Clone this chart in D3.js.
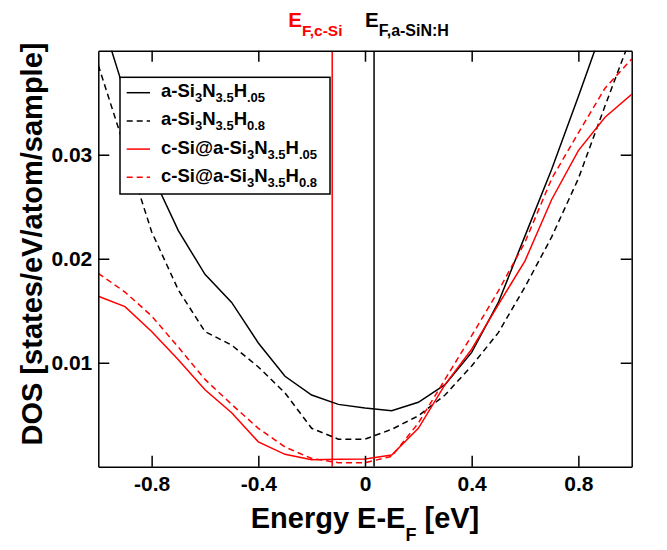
<!doctype html>
<html lang='en'>
<head>
    <meta charset='utf-8'>
    <title>DOS near the Fermi level</title>
    <script src='https://cdn.jsdelivr.net/npm/d3@7/dist/d3.min.js'></script>
    <style>
        body { margin: 0; background: white; }
        svg { font-family: 'Liberation Sans', Arial, Helvetica, sans-serif; font-weight: bold; }
        .frame path, .frame line { stroke: black; stroke-width: 1.5px; }
        .frame text { font-size: 21px; font-weight: bold; fill: black; font-family: 'Liberation Sans', Arial, sans-serif; }
        .curve { fill: none; stroke-width: 1.5px; }
    </style>
</head>
<body>
<div id='chart'></div>
<script>
    // energies in eV relative to E_F
    const energy = [-1.0, -0.9, -0.8, -0.7, -0.6, -0.5, -0.4, -0.3, -0.2, -0.1, 0.0,
                    0.1, 0.2, 0.3, 0.4, 0.5, 0.6, 0.7, 0.8, 0.9, 1.0];

    // DOS values, states/eV/atom/sample
    const dosASiN05 = [0.0441, 0.0359, 0.0282, 0.0227, 0.0185, 0.0158, 0.0119, 0.0087, 0.0069, 0.0060, 0.00565,
                       0.0054, 0.0062, 0.0079, 0.0110, 0.0158, 0.0222, 0.0286, 0.0356, 0.0428, 0.0500];
    const dosASiN08 = [0.0386, 0.0306, 0.0226, 0.0170, 0.0130, 0.0117, 0.0096, 0.0071, 0.0037, 0.00266, 0.00266,
                       0.0036, 0.0049, 0.0069, 0.0097, 0.0129, 0.0173, 0.0221, 0.0277, 0.0347, 0.0415];
    const dosCSi05 = [0.0164, 0.0154, 0.0130, 0.0103, 0.0074, 0.0052, 0.0024, 0.0012, 0.00068, 0.00072, 0.00075,
                      0.00114, 0.0037, 0.0079, 0.0113, 0.0156, 0.0198, 0.0257, 0.0304, 0.0336, 0.0358];
    const dosCSi08 = [0.0186, 0.0168, 0.0145, 0.0115, 0.0084, 0.0060, 0.0037, 0.0019, 0.0008, 0.0004, 0.0004,
                      0.0010, 0.0042, 0.0084, 0.0126, 0.0169, 0.0216, 0.0277, 0.0321, 0.0364, 0.0392];

    // Fermi levels
    const fermiCSi = -0.123;
    const fermiASiN = 0.034;

    const xTicks = [-0.8, -0.4, 0, 0.4, 0.8];
    const yTicks = [0.01, 0.02, 0.03];

    // legend labels as [text, subscript] pieces
    const seriesLabels = [
        [['a-Si', false], ['3', true], ['N', false], ['3.5', true], ['H', false], ['.05', true]],
        [['a-Si', false], ['3', true], ['N', false], ['3.5', true], ['H', false], ['0.8', true]],
        [['c-Si@a-Si', false], ['3', true], ['N', false], ['3.5', true], ['H', false], ['.05', true]],
        [['c-Si@a-Si', false], ['3', true], ['N', false], ['3.5', true], ['H', false], ['0.8', true]]
    ];
    const seriesValues = [dosASiN05, dosASiN08, dosCSi05, dosCSi08];
    const seriesColors = ['black', 'black', '#ff0000', '#ff0000'];
    const seriesDashes = [null, '6,4', null, '6,4'];

    const W = 667, H = 550;
    const plot = {left: 98.3, right: 631.7, top: 50.7, bottom: 466.8};

    const svg = d3.select('#chart').append('svg')
        .attr('width', W)
        .attr('height', H);

    const x = d3.scaleLinear().domain([-1, 1]).range([plot.left, plot.right]);
    const y = d3.scaleLinear().domain([0, 0.04]).range([plot.bottom, plot.top]);

    svg.append('clipPath').attr('id', 'plot-clip')
        .append('rect')
        .attr('x', plot.left)
        .attr('y', plot.top)
        .attr('width', plot.right - plot.left)
        .attr('height', plot.bottom - plot.top);

    const inner = svg.append('g').attr('clip-path', 'url(#plot-clip)');

    // Fermi level markers
    inner.selectAll('.fermi')
        .data([[fermiCSi, '#ff0000'], [fermiASiN, 'black']])
        .enter()
        .append('line')
        .attr('x1', d => x(d[0]))
        .attr('x2', d => x(d[0]))
        .attr('y1', plot.top)
        .attr('y2', plot.bottom)
        .style('stroke', d => d[1])
        .style('stroke-width', '1.5px');

    const line = d3.line()
        .x((d, i) => x(energy[i]))
        .y(d => y(d));

    inner.selectAll('.curve')
        .data(seriesValues)
        .enter()
        .append('path')
        .classed('curve', true)
        .attr('d', d => line(d))
        .style('stroke', (d, i) => seriesColors[i])
        .style('stroke-dasharray', (d, i) => seriesDashes[i]);

    // writes [text, isSub] pieces into a text element as tspans
    function writeParts(text, parts, mainSize, subSize, shift) {
        let down = false;
        parts.forEach(p => {
            const t = text.append('tspan').text(p[0]);
            if (p[1]) {
                t.style('font-size', subSize + 'px');
                if (!down) { t.attr('dy', shift); down = true; }
            } else {
                t.style('font-size', mainSize + 'px');
                if (down) { t.attr('dy', -shift); down = false; }
            }
        });
    }

    // legend
    const legend = svg.append('g');
    legend.append('rect')
        .attr('x', 120)
        .attr('y', 77.3)
        .attr('width', 210)
        .attr('height', 116.7)
        .style('fill', 'white')
        .style('stroke', 'black')
        .style('stroke-width', '1.5px');

    const rows = legend.selectAll('.row')
        .data(seriesLabels)
        .enter()
        .append('g')
        .attr('transform', (d, i) => `translate(0,${92.7 + i * 28.2})`);

    rows.append('line')
        .attr('x1', 126.7)
        .attr('x2', 150)
        .style('stroke', (d, i) => seriesColors[i])
        .style('stroke-width', '1.5px')
        .style('stroke-dasharray', (d, i) => seriesDashes[i]);

    rows.each(function (d) {
        const t = d3.select(this).append('text')
            .attr('x', 161)
            .attr('y', 4.5);
        writeParts(t, d, 18.5, 13, 5);
    });

    // axes on all four sides, ticks pointing inward
    const fmt = d => d === 0 ? '0' : String(d);

    svg.append('g').classed('frame', true)
        .attr('transform', `translate(0,${plot.bottom})`)
        .call(d3.axisBottom(x).tickValues(xTicks).tickFormat(fmt).tickSizeInner(-11).tickSizeOuter(0).tickPadding(9));

    svg.append('g').classed('frame', true)
        .attr('transform', `translate(0,${plot.top})`)
        .call(d3.axisTop(x).tickValues(xTicks).tickFormat('').tickSizeInner(-11).tickSizeOuter(0));

    svg.append('g').classed('frame', true)
        .attr('transform', `translate(${plot.left},0)`)
        .call(d3.axisLeft(y).tickValues(yTicks).tickFormat(d3.format('.2f')).tickSizeInner(-11).tickSizeOuter(0).tickPadding(6));

    svg.append('g').classed('frame', true)
        .attr('transform', `translate(${plot.right},0)`)
        .call(d3.axisRight(y).tickValues(yTicks).tickFormat('').tickSizeInner(-11).tickSizeOuter(0));

    // Fermi level labels above the frame
    const lblCSi = svg.append('text').attr('x', 288.3).attr('y', 27.3).style('fill', '#ff0000');
    writeParts(lblCSi, [['E', false], ['F,c-Si', true]], 20.5, 15.5, 8.7);

    const lblASiN = svg.append('text').attr('x', 365).attr('y', 27.3).style('fill', 'black');
    writeParts(lblASiN, [['E', false], ['F,a-SiN:H', true]], 20.5, 16, 8.7);

    // axis titles
    const xTitle = svg.append('text')
        .attr('x', (plot.left + plot.right) / 2)
        .attr('y', 528.3)
        .attr('text-anchor', 'middle');
    writeParts(xTitle, [['Energy E-E', false], ['F', true], [' [eV]', false]], 29, 18, 12.5);

    svg.append('text')
        .attr('transform', 'translate(42,244) rotate(-90)')
        .attr('text-anchor', 'middle')
        .style('font-size', '29px')
        .text('DOS [states/eV/atom/sample]');
</script>
</body>
</html>
